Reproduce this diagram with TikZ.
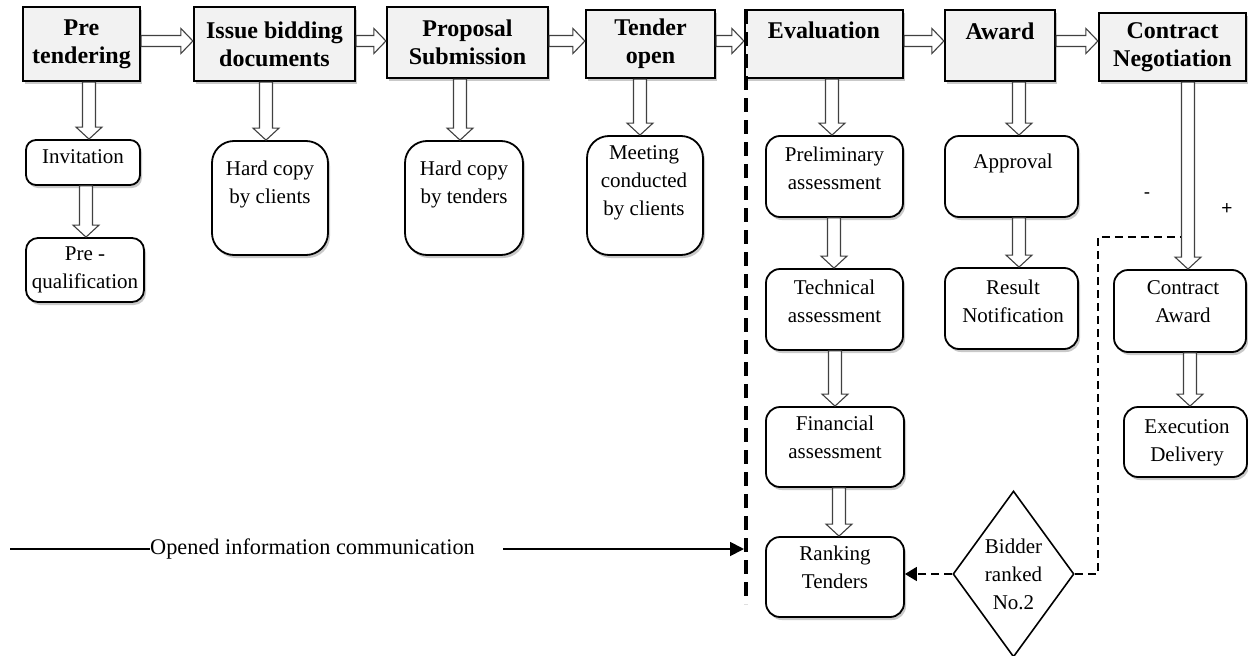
\documentclass[tikz,border=0pt]{standalone}
\usepackage{fontspec}
\setmainfont{Liberation Serif}
\newfontfamily\signfont{Liberation Sans}
\usetikzlibrary{shapes.geometric,shadows,arrows.meta,calc}
\definecolor{hdrfill}{RGB}{242,242,242}
\tikzset{
  shad/.style={drop shadow={shadow xshift=2pt, shadow yshift=-3pt, opacity=0.3, fill=black!70}},
  hdr/.style={draw, line width=2.2pt, fill=hdrfill, inner sep=0pt, align=center,
    font=\fontsize{24}{28}\selectfont\bfseries, shad},
  rbox/.style={draw, line width=1.8pt, fill=white, rounded corners=14pt, inner sep=0pt, shad},
  bigr/.style={rbox, rounded corners=22pt},
  dia/.style={draw, shape=diamond, line width=1.6pt, fill=white, inner sep=0pt,
    minimum width=121pt, minimum height=166pt},
  txt/.style={align=center, inner sep=0pt, font=\fontsize{21}{28}\selectfont},
  sign/.style={inner sep=0pt, font=\signfont\fontsize{19}{19}\selectfont},
  blk/.style={draw=black!75, line width=1.1pt, fill=white, line join=miter},
  dline/.style={line width=1.8pt, dash pattern=on 8pt off 5pt},
  bigdash/.style={line width=4pt, dash pattern=on 14pt off 8pt},
  solidline/.style={line width=1.8pt}
}
% horizontal block arrow: from #1.east to #2.west at height #3
\newcommand\hblk[3]{%
  \path[blk] let \p1=(#1.east), \p2=(#2.west), \p3=(0,#3) in
    (\x1,\y3-5.5pt) -- (\x2-12pt,\y3-5.5pt) -- (\x2-12pt,\y3-12.5pt) -- (\x2,\y3)
    -- (\x2-12pt,\y3+12.5pt) -- (\x2-12pt,\y3+5.5pt) -- (\x1,\y3+5.5pt) -- cycle;}
% vertical block arrow at x #1 from #2.south to #3.north
\newcommand\vblk[3]{%
  \path[blk] let \p1=(#2.south), \p2=(#3.north), \p3=(#1,0) in
    (\x3-6.5pt,\y1) -- (\x3-6.5pt,\y2+12pt) -- (\x3-13pt,\y2+12pt) -- (\x3,\y2)
    -- (\x3+13pt,\y2+12pt) -- (\x3+6.5pt,\y2+12pt) -- (\x3+6.5pt,\y1) -- cycle;}
\begin{document}
\begin{tikzpicture}[x=1pt,y=-1pt]
\useasboundingbox (0,0) rectangle (1248,656);

% header boxes
\node[hdr, minimum width=117pt, minimum height=74pt] (h1) at (81.5,44) {Pre\\tendering};
\node[hdr, minimum width=161pt, minimum height=74pt] (h2) at (274.5,44) {Issue bidding\\documents};
\node[hdr, minimum width=161pt, minimum height=71pt] (h3) at (467.5,42.5) {Proposal\\Submission};
\node[hdr, minimum width=129pt, minimum height=68pt] (h4) at (650.5,44) {Tender\\open};
\node[hdr, minimum width=158pt, minimum height=68pt] (h5) at (824,44) {Evaluation\\\mbox{}};
\node[hdr, minimum width=110pt, minimum height=71pt] (h6) at (1000,45.5) {Award\\\mbox{}};
\node[hdr, minimum width=147pt, minimum height=68pt] (h7) at (1172.5,47) {Contract\\Negotiation};

% lower boxes
\node[rbox, rounded corners=10pt, minimum width=114pt, minimum height=45pt] (inv) at (83,162.5) {};
\node[rbox, rounded corners=12pt, minimum width=118pt, minimum height=64pt] (pq) at (85,270) {};
\node[bigr, minimum width=116pt, minimum height=114pt] (hc1) at (270,198) {};
\node[bigr, minimum width=118pt, minimum height=114pt] (hc2) at (464,198) {};
\node[bigr, minimum width=116pt, minimum height=119pt] (meet) at (645,195.5) {};
\node[rbox, minimum width=137pt, minimum height=81pt] (prel) at (834.5,176.5) {};
\node[rbox, minimum width=137pt, minimum height=81pt] (tech) at (834.5,309.5) {};
\node[rbox, minimum width=138pt, minimum height=80pt] (fin) at (835,447) {};
\node[rbox, minimum width=138pt, minimum height=80pt] (rank) at (835,577) {};
\node[rbox, minimum width=133pt, minimum height=81pt] (appr) at (1011.5,176.5) {};
\node[rbox, minimum width=133pt, minimum height=81pt] (res) at (1011.5,308.5) {};
\node[rbox, minimum width=132pt, minimum height=82pt] (ca) at (1180,311) {};
\node[rbox, minimum width=123pt, minimum height=70pt] (exec) at (1185.5,442) {};
\node[dia] (dia) at (1013.5,574) {};

% texts
\node[txt] (invt) at (83,157) {Invitation};
\node[txt] (pqt) at (85,270) {Pre -\\qualification};
\node[txt] (hc1t) at (270,184) {Hard copy\\by clients};
\node[txt] (hc2t) at (464,184) {Hard copy\\by tenders};
\node[txt] (meett) at (644,183) {Meeting\\conducted\\by clients};
\node[txt] (prelt) at (834.5,168) {Preliminary\\assessment};
\node[txt] (techt) at (834.5,301) {Technical\\assessment};
\node[txt] (fint) at (835,437.5) {Financial\\assessment};
\node[txt] (rankt) at (835,567.5) {Ranking\\Tenders};
\node[txt] (apprt) at (1013,163) {Approval};
\node[txt] (rest) at (1013,301) {Result\\Notification};
\node[txt] (cat) at (1183,302) {Contract\\Award};
\node[txt] (exect) at (1187,442.5) {Execution\\Delivery};
\node[txt] (diat) at (1013.5,574) {Bidder\\ranked\\No.2};
\node[sign] (minus) at (1147,196) {-};
\node[sign] (plus) at (1227,209) {+};

% dashed feedback connectors
\coordinate (dcorner) at (1098,237);
\coordinate (dend) at (1182,237);
\draw[dline] (dia.east) -| (dcorner) -- (dend);
\draw[dline, -{Triangle[length=12pt,width=14pt]}] (dia.west) -- (dia.west -| rank.east);

% horizontal block arrows
\hblk{h1}{h2}{41}
\hblk{h2}{h3}{41}
\hblk{h3}{h4}{41}
\hblk{h4}{h5}{41}
\hblk{h5}{h6}{41}
\hblk{h6}{h7}{41}

% vertical block arrows
\vblk{89}{h1}{inv}
\vblk{86}{inv}{pq}
\vblk{266}{h2}{hc1}
\vblk{460}{h3}{hc2}
\vblk{640}{h4}{meet}
\vblk{832}{h5}{prel}
\vblk{834}{prel}{tech}
\vblk{835}{tech}{fin}
\vblk{839}{fin}{rank}
\vblk{1019}{h6}{appr}
\vblk{1019}{appr}{res}
\vblk{1188}{h7}{ca}
\vblk{1190}{ca}{exec}

% separation line
\coordinate (dtop) at (745.5,10);
\coordinate (dbot) at (745.5,604);
\draw[bigdash] (dtop) -- (dbot);

% opened information communication
\node[txt, font=\fontsize{22.3}{28}\selectfont] (otext) at (312.5,549) {Opened information communication};
\coordinate (oL) at (10,549);
\coordinate (oR) at (503,549);
\coordinate (oEnd) at (744,549);
\draw[solidline] (oL) -- (otext.west);
\draw[solidline, -{Triangle[length=14pt,width=14pt]}] (oR) -- (oEnd);
\end{tikzpicture}
\end{document}
